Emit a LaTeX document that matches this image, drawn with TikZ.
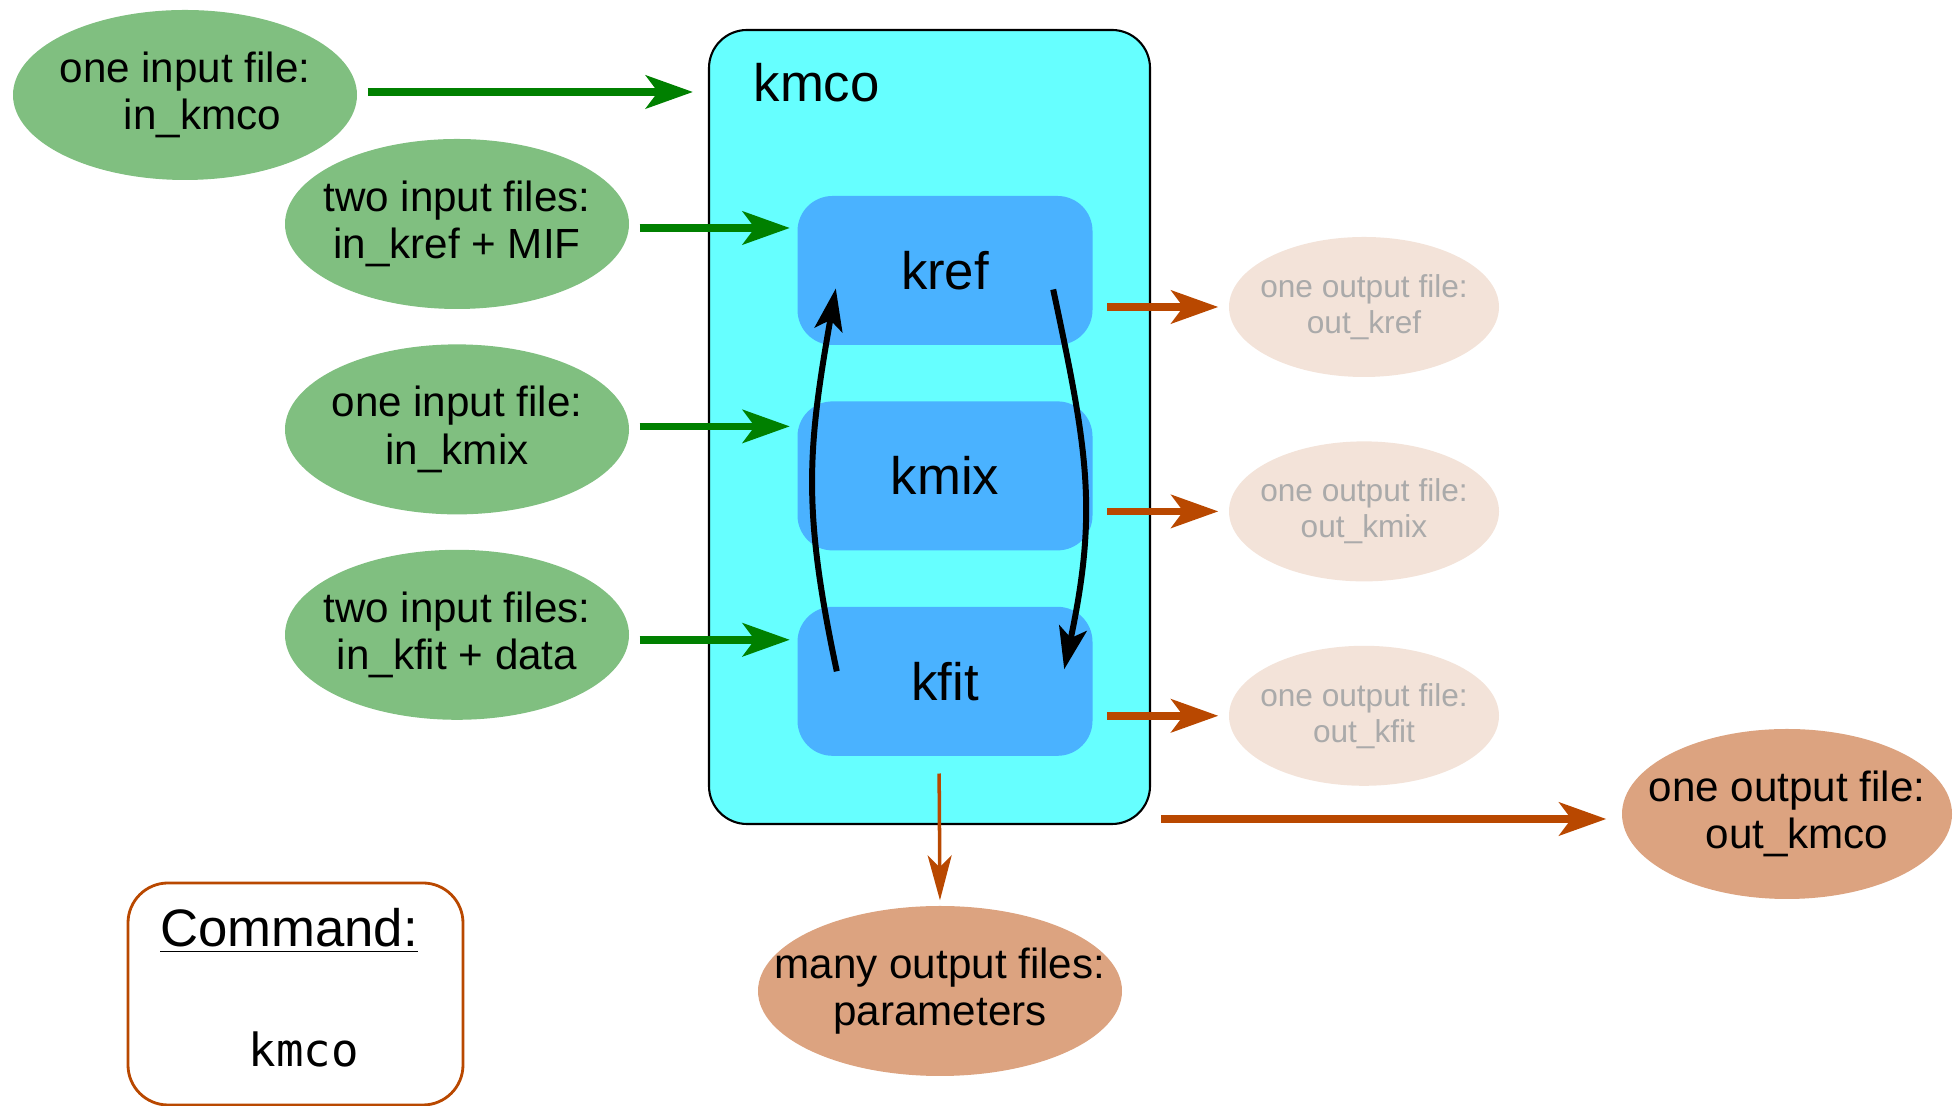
\documentclass[tikz,border=0pt]{standalone}
\usepackage{fontspec}
\setmainfont{Liberation Sans}
\setmonofont{DejaVu Sans Mono}
\usepackage{xcolor}
\usepackage{tikz}
\usetikzlibrary{arrows.meta,positioning,shapes.geometric}

\definecolor{ingreen}{RGB}{128,191,128}
\definecolor{arrgreen}{RGB}{0,128,0}
\definecolor{mainfill}{RGB}{102,255,255}
\definecolor{stagefill}{RGB}{74,178,255}
\definecolor{arrorange}{RGB}{185,72,0}
\definecolor{outfill}{RGB}{220,163,128}
\definecolor{fadefill}{RGB}{243,227,217}
\definecolor{fadetext}{RGB}{170,170,170}

\begin{document}
\begin{tikzpicture}[
  node distance=0.34cm and 0.5cm,
  infile/.style={ellipse,fill=ingreen,minimum width=3.44cm,minimum height=1.70cm,inner xsep=-0.4cm,inner ysep=0pt,align=center,font=\fontsize{12}{13.4}\selectfont},
  outfile/.style={infile,fill=outfill},
  fadefile/.style={ellipse,fill=fadefill,text=fadetext,minimum width=2.70cm,minimum height=1.40cm,inner xsep=-0.4cm,inner ysep=0pt,align=center,font=\fontsize{9}{10.2}\selectfont},
  mainbox/.style={draw=black,fill=mainfill,rounded corners=0.38cm,line width=0.6pt,minimum width=4.41cm,minimum height=7.94cm},
  stage/.style={fill=stagefill,rounded corners=0.35cm,minimum width=2.95cm,minimum height=1.49cm,font=\fontsize{15}{17}\selectfont},
  cmdbox/.style={draw=arrorange,rounded corners=0.4cm,line width=0.8pt,minimum width=3.35cm,minimum height=2.22cm},
  inarr/.style={-{Stealth[length=4.7mm,width=3.3mm,inset=1.2mm]},line width=2.2pt,arrgreen},
  outarr/.style={inarr,arrorange},
  cyclearr/.style={-{Stealth[length=4.2mm,width=2.8mm,inset=1mm]},line width=1.7pt,black}
]
\useasboundingbox (0,0) rectangle (19.54,11.06);

% kmco frame
\node[mainbox] (kmco) at (9.295,6.79) {};
\node[anchor=west,inner sep=0pt,font=\fontsize{15}{17}\selectfont] (kmcolabel) at (7.53,10.23) {kmco};

% Stages
\node[stage] (kref) at (9.45,8.355) {kref};
\node[stage,below=0.55cm of kref] (kmix) {kmix};
\node[stage,below=0.55cm of kmix] (kfit) {kfit};

% Input files
\node[infile] (inkmco) at (1.85,10.11) {one input file:\\\hspace*{0.35cm}in\_kmco};
\node[infile] (inkref) at (4.57,8.82) {two input files:\\in\_kref + MIF};
\node[infile,below=of inkref] (inkmix) {one input file:\\in\_kmix};
\node[infile,below=of inkmix] (inkfit) {two input files:\\in\_kfit + data};

% Output files
\node[fadefile] (outkref) at (13.64,7.99) {one output file:\\out\_kref};
\node[fadefile,below=0.63cm of outkref] (outkmix) {one output file:\\out\_kmix};
\node[fadefile,below=0.63cm of outkmix] (outkfit) {one output file:\\out\_kfit};
\node[outfile,minimum width=3.30cm] (outkmco) at (17.87,2.92) {one output file:\\\hspace*{0.2cm}out\_kmco};
\node[outfile,minimum width=3.64cm] (params) at (9.40,1.15) {many output files:\\parameters};

% Command
\node[cmdbox] (cmd) at (2.955,1.12) {};
\node[font=\fontsize{15}{17}\selectfont] (cmdtitle) at (2.89,1.75) {\underline{Command:}};
\node[font=\fontsize{13}{15}\ttfamily] (cmdname) at (3.04,0.57) {kmco};

% Input arrows
\draw[inarr,shorten <=1mm,shorten >=1.5mm] ([yshift=0.3mm]inkmco.east) -- ([yshift=0.3mm]inkmco.east -| kmco.west);
\draw[inarr,shorten <=1mm,shorten >=0.7mm] ([yshift=-0.4mm]inkref.east) -- ([yshift=-0.4mm]inkref.east -| kref.west);
\draw[inarr,shorten <=1mm,shorten >=0.7mm] ([yshift=0.3mm]inkmix.east) -- ([yshift=0.3mm]inkmix.east -| kmix.west);
\draw[inarr,shorten <=1mm,shorten >=0.7mm] ([yshift=-0.5mm]inkfit.east) -- ([yshift=-0.5mm]inkfit.east -| kfit.west);

% Output arrows
\draw[outarr,shorten <=1.4mm,shorten >=1mm] (outkref.west -| kref.east) -- (outkref.west);
\draw[outarr,shorten <=1.4mm,shorten >=1mm] (outkmix.west -| kmix.east) -- (outkmix.west);
\draw[outarr,shorten <=1.4mm,shorten >=1mm] (outkfit.west -| kfit.east) -- (outkfit.west);
\draw[outarr,shorten <=1mm,shorten >=1.5mm] ([yshift=-0.5mm]outkmco.west -| kmco.east) -- ([yshift=-0.5mm]outkmco.west);
\draw[outarr,line width=1pt,-{Stealth[length=4.5mm,width=2.4mm,inset=1.2mm]},shorten <=1.7mm,shorten >=0.5mm] ([xshift=-0.6mm]kfit.south) -- (params.north);

% Iteration loop
\draw[cyclearr] ([xshift=4mm,yshift=1mm]kfit.west) to[out=102,in=-100,looseness=1.1] ([xshift=3.9mm,yshift=-1.8mm]kref.west);
\draw[cyclearr] ([xshift=-4mm,yshift=-1.9mm]kref.east) to[out=-78,in=78,looseness=1.1] ([xshift=-2.9mm,yshift=1.2mm]kfit.east);

\end{tikzpicture}
\end{document}
